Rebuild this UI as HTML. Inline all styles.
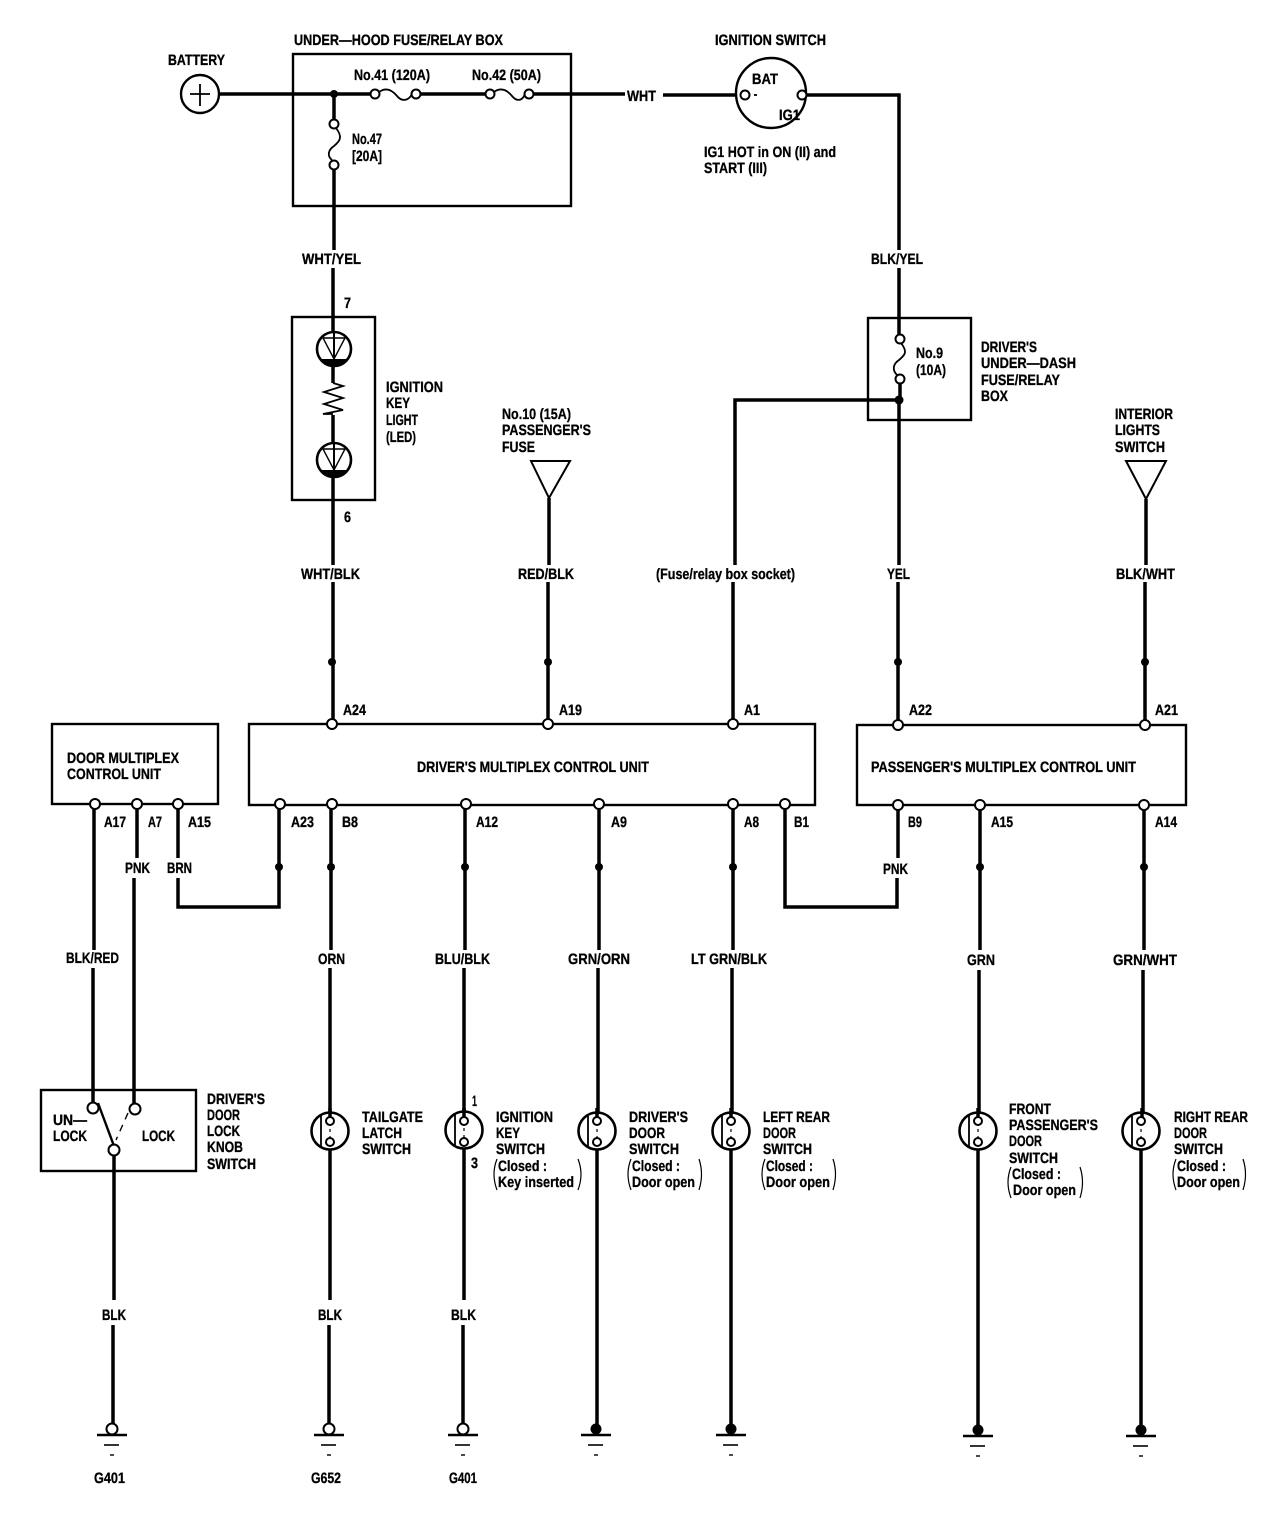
<!DOCTYPE html>
<html><head><meta charset="utf-8"><style>
html,body{margin:0;padding:0;background:#fff;width:1280px;height:1522px;overflow:hidden}
svg{display:block}
text{font-family:"Liberation Sans",sans-serif;font-weight:bold;font-size:15px;fill:#000;stroke:#000;stroke-width:.3px;text-rendering:geometricPrecision}
.w{stroke:#000;stroke-width:3.5;fill:none}
.b{stroke:#000;stroke-width:2.4;fill:none}
.t{stroke:#000;stroke-width:2;fill:#fff}
.n{stroke:#000;stroke-width:1.8;fill:none}
</style></head><body>
<svg width="1280" height="1522" viewBox="0 0 1280 1522" xmlns="http://www.w3.org/2000/svg">
<defs>
<g id="sw"><circle cx="0" cy="0" r="18.5" fill="#fff" stroke="#000" stroke-width="2.6"/><path d="M-9,-16V16" class="n"/><path d="M0,-9V9" stroke="#000" stroke-width="1.2" stroke-dasharray="3 4"/></g>
<g id="gnd"><path d="M-15,6H15" stroke="#000" stroke-width="2.6"/><path d="M-8,16H7" stroke="#000" stroke-width="1.6"/><path d="M-2,26H2" stroke="#000" stroke-width="1.4"/></g>
<g id="led"><circle cx="0" cy="0" r="17" fill="#fff" stroke="#000" stroke-width="2.6"/><path d="M-11,-11H11L0,10Z" fill="none" stroke="#000" stroke-width="1.4"/><path d="M-13.7,10A17,17 0 0 0 13.7,10Z" fill="#000"/></g>
</defs>

<!-- boxes -->
<g class="b">
<rect x="293" y="54" width="278" height="152"/>
<rect x="292" y="317" width="83" height="183"/>
<rect x="868" y="318" width="103" height="102"/>
<rect x="52" y="724" width="166" height="80"/>
<rect x="249" y="724" width="566" height="81"/>
<rect x="857" y="725" width="329" height="80"/>
<rect x="41" y="1090" width="155" height="81"/>
</g>

<!-- top wires -->
<g class="w">
<path d="M219,94H372"/><path d="M419,94H487"/><path d="M532,94H625"/><path d="M663,95H742"/>
<path d="M805,95H899V250"/><path d="M899,268V336"/><path d="M900,382V400H735V565"/><path d="M899,400V565"/>
<path d="M334,94V121"/><path d="M334,167V250"/><path d="M333,268V340"/><path d="M333,366V383"/><path d="M333,415V444"/><path d="M333,477V565"/>
<path d="M333,582V720"/><path d="M549,498V565"/><path d="M548,582V720"/><path d="M733,582V720"/><path d="M898,582V720"/>
<path d="M1146,499V565"/><path d="M1145,582V720"/>
</g>

<!-- battery -->
<circle cx="200" cy="94" r="19" fill="#fff" stroke="#000" stroke-width="2.4"/>
<path d="M190,94H210M200,84V106" class="n" stroke-width="1.2"/>
<!-- fuses -->
<path d="M379,92C386,87 392,90 397,96C401,101 408,102 412,94" class="n"/>
<path d="M494,92C501,87 507,90 512,96C516,101 522,102 525,94" class="n"/>
<path d="M336,128C343,137 340,141 334,146C328,150 327,156 332,160" class="n"/>
<path d="M901,343C908,352 905,355 899,360C893,364 892,370 897,375" class="n"/>
<g class="t">
<circle cx="375" cy="94" r="4.5"/><circle cx="416" cy="94" r="4.5"/><circle cx="490" cy="94" r="4.5"/><circle cx="529" cy="94" r="4.5"/>
<circle cx="334" cy="124" r="4.5"/><circle cx="334" cy="165" r="4.5"/><circle cx="900" cy="339" r="4.5"/><circle cx="900" cy="379" r="4.5"/>
</g>
<circle cx="334" cy="94" r="4" fill="#000"/>
<circle cx="899" cy="400" r="4.5" fill="#000"/>

<!-- ignition switch -->
<circle cx="771" cy="93" r="35" fill="#fff" stroke="#000" stroke-width="2.4"/>
<circle cx="745" cy="95" r="4.5" class="t"/><circle cx="802" cy="95" r="4.5" class="t"/>
<path d="M754,95H757" class="n"/>

<!-- LED -->
<use href="#led" x="334" y="349"/><use href="#led" x="334" y="460"/>
<path d="M334,332V358M334,443V470" stroke="#000" stroke-width="2"/>
<path d="M333,383L343,386L324,392L343,398L324,404L343,410L323,414H333" class="n"/>

<!-- triangles -->
<path d="M531,461H570L549,498Z" fill="#fff" stroke="#000" stroke-width="2"/>
<path d="M1126,461H1166L1146,499Z" fill="#fff" stroke="#000" stroke-width="2"/>

<!-- lower wires -->
<g class="w">
<path d="M94,808V950"/><path d="M93,968V1104"/>
<path d="M137,808V858"/><path d="M134,878V1105"/>
<path d="M178,808V858"/><path d="M178,878V907H279V808"/>
<path d="M331,808V950"/><path d="M330,968V1113"/><path d="M330,1148V1300"/><path d="M329,1325V1424"/>
<path d="M465,808V950"/><path d="M464,968V1117"/><path d="M464,1146V1300"/><path d="M463,1325V1424"/>
<path d="M599,808V950"/><path d="M598,968V1117"/><path d="M597,1146V1425"/>
<path d="M733,808V950"/><path d="M732,968V1117"/><path d="M731,1146V1425"/>
<path d="M785,808V907H897V878"/><path d="M898,858V808"/>
<path d="M980,808V950"/><path d="M979,970V1117"/><path d="M978,1146V1426"/>
<path d="M1144,808V950"/><path d="M1143,970V1117"/><path d="M1141,1146V1426"/>
<path d="M114,1155V1300"/><path d="M113,1325V1424"/>
</g>
<!-- junction dots -->
<g fill="#000">
<circle cx="332" cy="662" r="4"/><circle cx="548" cy="662" r="4"/><circle cx="898" cy="662" r="4"/><circle cx="1145" cy="662" r="4"/>
<circle cx="279" cy="867" r="4"/><circle cx="331" cy="867" r="4"/><circle cx="465" cy="867" r="4"/><circle cx="599" cy="867" r="4"/><circle cx="733" cy="867" r="4"/><circle cx="980" cy="867" r="4"/><circle cx="1144" cy="867" r="4"/>
</g>
<!-- terminals -->
<g class="t">
<circle cx="332" cy="724" r="5"/><circle cx="548" cy="724" r="5"/><circle cx="733" cy="724" r="5"/><circle cx="898" cy="725" r="5"/><circle cx="1145" cy="725" r="5"/>
<circle cx="95" cy="804" r="5"/><circle cx="137" cy="804" r="5"/><circle cx="178" cy="804" r="5"/>
<circle cx="280" cy="804" r="5"/><circle cx="332" cy="804" r="5"/><circle cx="466" cy="804" r="5"/><circle cx="599" cy="804" r="5"/><circle cx="733" cy="804" r="5"/><circle cx="785" cy="804" r="5"/>
<circle cx="898" cy="805" r="5"/><circle cx="980" cy="805" r="5"/><circle cx="1144" cy="805" r="5"/>
</g>

<!-- door lock switch -->
<path d="M98,1103L114,1146" stroke="#000" stroke-width="2.4"/>
<path d="M128,1113L116,1140" stroke="#000" stroke-width="1.4" stroke-dasharray="7 6"/>
<g class="t"><circle cx="93" cy="1108" r="5.5"/><circle cx="135" cy="1109" r="5.5"/><circle cx="114" cy="1150" r="5.5"/></g>

<!-- switches -->
<use href="#sw" x="330" y="1131"/><use href="#sw" x="464" y="1130"/><use href="#sw" x="597" y="1131"/><use href="#sw" x="731" y="1131"/><use href="#sw" x="978" y="1131"/><use href="#sw" x="1141" y="1131"/>
<g class="t" stroke-width="1.8">
<circle cx="330" cy="1121" r="4"/><circle cx="330" cy="1142" r="4"/>
<circle cx="464" cy="1121" r="4"/><circle cx="464" cy="1142" r="4"/>
<circle cx="597" cy="1121" r="4"/><circle cx="597" cy="1142" r="4"/>
<circle cx="731" cy="1121" r="4"/><circle cx="731" cy="1142" r="4"/>
<circle cx="978" cy="1121" r="4"/><circle cx="978" cy="1142" r="4"/>
<circle cx="1141" cy="1121" r="4"/><circle cx="1141" cy="1142" r="4"/>
</g>
<path d="M330,1108V1117M464,1108V1117M597,1108V1117M731,1108V1117M978,1108V1117M1142,1108V1117" class="w"/>

<!-- grounds -->
<use href="#gnd" x="112" y="1429"/><use href="#gnd" x="329" y="1429"/><use href="#gnd" x="463" y="1429"/><use href="#gnd" x="596" y="1429"/><use href="#gnd" x="731" y="1429"/><use href="#gnd" x="978" y="1430"/><use href="#gnd" x="1141" y="1430"/>
<g class="t"><circle cx="112" cy="1429" r="5.5"/><circle cx="329" cy="1429" r="5.5"/><circle cx="463" cy="1429" r="5.5"/></g>
<g fill="#000"><circle cx="596" cy="1429" r="5.5"/><circle cx="731" cy="1429" r="5.5"/><circle cx="978" cy="1430" r="5.5"/><circle cx="1141" cy="1430" r="5.5"/></g>

<!-- parens -->
<g stroke="#000" stroke-width="1.2" fill="none">
<path d="M497,1159Q491,1174 497,1190M578,1159Q584,1174 578,1190"/>
<path d="M631,1159Q625,1174 631,1190M699,1159Q704,1174 699,1190"/>
<path d="M765,1159Q759,1174 765,1190M833,1159Q838,1174 833,1190"/>
<path d="M1011,1167Q1005,1182 1011,1198M1080,1167Q1085,1182 1080,1198"/>
<path d="M1176,1159Q1170,1174 1176,1190M1243,1159Q1248,1174 1243,1190"/>
</g>

<!-- text -->
<text x="168" y="65" textLength="57" lengthAdjust="spacingAndGlyphs">BATTERY</text>
<text x="294" y="45" textLength="209" lengthAdjust="spacingAndGlyphs">UNDER—HOOD FUSE/RELAY BOX</text>
<text x="354" y="80" textLength="76" lengthAdjust="spacingAndGlyphs">No.41 (120A)</text>
<text x="472" y="80" textLength="69" lengthAdjust="spacingAndGlyphs">No.42 (50A)</text>
<text x="352" y="144" textLength="30" lengthAdjust="spacingAndGlyphs">No.47</text>
<text x="352" y="161" textLength="30" lengthAdjust="spacingAndGlyphs">[20A]</text>
<text x="715" y="45" textLength="111" lengthAdjust="spacingAndGlyphs">IGNITION SWITCH</text>
<text x="752" y="84" textLength="26" lengthAdjust="spacingAndGlyphs">BAT</text>
<text x="779" y="120" textLength="21" lengthAdjust="spacingAndGlyphs">IG1</text>
<text x="704" y="157" textLength="132" lengthAdjust="spacingAndGlyphs">IG1 HOT in ON (II) and</text>
<text x="704" y="173" textLength="63" lengthAdjust="spacingAndGlyphs">START (III)</text>
<text x="627" y="101" textLength="29" lengthAdjust="spacingAndGlyphs">WHT</text>
<text x="302" y="264" textLength="59" lengthAdjust="spacingAndGlyphs">WHT/YEL</text>
<text x="871" y="264" textLength="52" lengthAdjust="spacingAndGlyphs">BLK/YEL</text>
<text x="344" y="308" textLength="7" lengthAdjust="spacingAndGlyphs">7</text>
<text x="344" y="522" textLength="7" lengthAdjust="spacingAndGlyphs">6</text>
<text x="386" y="392" textLength="57" lengthAdjust="spacingAndGlyphs">IGNITION</text>
<text x="386" y="408" textLength="24" lengthAdjust="spacingAndGlyphs">KEY</text>
<text x="386" y="425" textLength="32" lengthAdjust="spacingAndGlyphs">LIGHT</text>
<text x="386" y="442" textLength="30" lengthAdjust="spacingAndGlyphs">(LED)</text>
<text x="916" y="358" textLength="27" lengthAdjust="spacingAndGlyphs">No.9</text>
<text x="916" y="375" textLength="30" lengthAdjust="spacingAndGlyphs">(10A)</text>
<text x="981" y="352" textLength="56" lengthAdjust="spacingAndGlyphs">DRIVER'S</text>
<text x="981" y="368" textLength="95" lengthAdjust="spacingAndGlyphs">UNDER—DASH</text>
<text x="981" y="385" textLength="79" lengthAdjust="spacingAndGlyphs">FUSE/RELAY</text>
<text x="981" y="401" textLength="27" lengthAdjust="spacingAndGlyphs">BOX</text>
<text x="502" y="419" textLength="69" lengthAdjust="spacingAndGlyphs">No.10 (15A)</text>
<text x="502" y="435" textLength="89" lengthAdjust="spacingAndGlyphs">PASSENGER'S</text>
<text x="502" y="452" textLength="33" lengthAdjust="spacingAndGlyphs">FUSE</text>
<text x="1115" y="419" textLength="58" lengthAdjust="spacingAndGlyphs">INTERIOR</text>
<text x="1115" y="435" textLength="45" lengthAdjust="spacingAndGlyphs">LIGHTS</text>
<text x="1115" y="452" textLength="50" lengthAdjust="spacingAndGlyphs">SWITCH</text>
<text x="301" y="579" textLength="59" lengthAdjust="spacingAndGlyphs">WHT/BLK</text>
<text x="518" y="579" textLength="56" lengthAdjust="spacingAndGlyphs">RED/BLK</text>
<text x="656" y="579" textLength="139" lengthAdjust="spacingAndGlyphs">(Fuse/relay box socket)</text>
<text x="887" y="579" textLength="23" lengthAdjust="spacingAndGlyphs">YEL</text>
<text x="1116" y="579" textLength="59" lengthAdjust="spacingAndGlyphs">BLK/WHT</text>
<text x="343" y="715" textLength="23" lengthAdjust="spacingAndGlyphs">A24</text>
<text x="559" y="715" textLength="23" lengthAdjust="spacingAndGlyphs">A19</text>
<text x="744" y="715" textLength="16" lengthAdjust="spacingAndGlyphs">A1</text>
<text x="909" y="715" textLength="23" lengthAdjust="spacingAndGlyphs">A22</text>
<text x="1155" y="715" textLength="23" lengthAdjust="spacingAndGlyphs">A21</text>
<text x="67" y="763" textLength="112" lengthAdjust="spacingAndGlyphs">DOOR MULTIPLEX</text>
<text x="67" y="779" textLength="94" lengthAdjust="spacingAndGlyphs">CONTROL UNIT</text>
<text x="417" y="772" textLength="232" lengthAdjust="spacingAndGlyphs">DRIVER'S MULTIPLEX CONTROL UNIT</text>
<text x="871" y="772" textLength="265" lengthAdjust="spacingAndGlyphs">PASSENGER'S MULTIPLEX CONTROL UNIT</text>
<text x="104" y="827" textLength="22" lengthAdjust="spacingAndGlyphs">A17</text>
<text x="148" y="827" textLength="14" lengthAdjust="spacingAndGlyphs">A7</text>
<text x="188" y="827" textLength="23" lengthAdjust="spacingAndGlyphs">A15</text>
<text x="291" y="827" textLength="23" lengthAdjust="spacingAndGlyphs">A23</text>
<text x="342" y="827" textLength="16" lengthAdjust="spacingAndGlyphs">B8</text>
<text x="476" y="827" textLength="22" lengthAdjust="spacingAndGlyphs">A12</text>
<text x="611" y="827" textLength="16" lengthAdjust="spacingAndGlyphs">A9</text>
<text x="744" y="827" textLength="15" lengthAdjust="spacingAndGlyphs">A8</text>
<text x="794" y="827" textLength="15" lengthAdjust="spacingAndGlyphs">B1</text>
<text x="908" y="827" textLength="14" lengthAdjust="spacingAndGlyphs">B9</text>
<text x="991" y="827" textLength="22" lengthAdjust="spacingAndGlyphs">A15</text>
<text x="1155" y="827" textLength="22" lengthAdjust="spacingAndGlyphs">A14</text>
<text x="125" y="873" textLength="25" lengthAdjust="spacingAndGlyphs">PNK</text>
<text x="167" y="873" textLength="25" lengthAdjust="spacingAndGlyphs">BRN</text>
<text x="883" y="874" textLength="25" lengthAdjust="spacingAndGlyphs">PNK</text>
<text x="66" y="963" textLength="53" lengthAdjust="spacingAndGlyphs">BLK/RED</text>
<text x="318" y="964" textLength="27" lengthAdjust="spacingAndGlyphs">ORN</text>
<text x="435" y="964" textLength="55" lengthAdjust="spacingAndGlyphs">BLU/BLK</text>
<text x="568" y="964" textLength="62" lengthAdjust="spacingAndGlyphs">GRN/ORN</text>
<text x="691" y="964" textLength="76" lengthAdjust="spacingAndGlyphs">LT GRN/BLK</text>
<text x="967" y="965" textLength="28" lengthAdjust="spacingAndGlyphs">GRN</text>
<text x="1113" y="965" textLength="64" lengthAdjust="spacingAndGlyphs">GRN/WHT</text>
<text x="207" y="1104" textLength="58" lengthAdjust="spacingAndGlyphs">DRIVER'S</text>
<text x="207" y="1120" textLength="33" lengthAdjust="spacingAndGlyphs">DOOR</text>
<text x="207" y="1136" textLength="33" lengthAdjust="spacingAndGlyphs">LOCK</text>
<text x="207" y="1152" textLength="36" lengthAdjust="spacingAndGlyphs">KNOB</text>
<text x="207" y="1169" textLength="49" lengthAdjust="spacingAndGlyphs">SWITCH</text>
<text x="53" y="1125" textLength="34" lengthAdjust="spacingAndGlyphs">UN—</text>
<text x="53" y="1141" textLength="34" lengthAdjust="spacingAndGlyphs">LOCK</text>
<text x="142" y="1141" textLength="33" lengthAdjust="spacingAndGlyphs">LOCK</text>
<text x="362" y="1122" textLength="61" lengthAdjust="spacingAndGlyphs">TAILGATE</text>
<text x="362" y="1138" textLength="40" lengthAdjust="spacingAndGlyphs">LATCH</text>
<text x="362" y="1154" textLength="49" lengthAdjust="spacingAndGlyphs">SWITCH</text>
<text x="472" y="1106" textLength="5" lengthAdjust="spacingAndGlyphs">1</text>
<text x="471" y="1168" textLength="7" lengthAdjust="spacingAndGlyphs">3</text>
<text x="496" y="1122" textLength="57" lengthAdjust="spacingAndGlyphs">IGNITION</text>
<text x="496" y="1138" textLength="24" lengthAdjust="spacingAndGlyphs">KEY</text>
<text x="496" y="1154" textLength="49" lengthAdjust="spacingAndGlyphs">SWITCH</text>
<text x="498" y="1171" textLength="49" lengthAdjust="spacingAndGlyphs">Closed :</text>
<text x="498" y="1187" textLength="76" lengthAdjust="spacingAndGlyphs">Key inserted</text>
<text x="629" y="1122" textLength="59" lengthAdjust="spacingAndGlyphs">DRIVER'S</text>
<text x="629" y="1138" textLength="36" lengthAdjust="spacingAndGlyphs">DOOR</text>
<text x="629" y="1154" textLength="50" lengthAdjust="spacingAndGlyphs">SWITCH</text>
<text x="632" y="1171" textLength="48" lengthAdjust="spacingAndGlyphs">Closed :</text>
<text x="632" y="1187" textLength="63" lengthAdjust="spacingAndGlyphs">Door open</text>
<text x="763" y="1122" textLength="67" lengthAdjust="spacingAndGlyphs">LEFT REAR</text>
<text x="763" y="1138" textLength="33" lengthAdjust="spacingAndGlyphs">DOOR</text>
<text x="763" y="1154" textLength="49" lengthAdjust="spacingAndGlyphs">SWITCH</text>
<text x="766" y="1171" textLength="47" lengthAdjust="spacingAndGlyphs">Closed :</text>
<text x="766" y="1187" textLength="64" lengthAdjust="spacingAndGlyphs">Door open</text>
<text x="1009" y="1114" textLength="42" lengthAdjust="spacingAndGlyphs">FRONT</text>
<text x="1009" y="1130" textLength="89" lengthAdjust="spacingAndGlyphs">PASSENGER'S</text>
<text x="1009" y="1146" textLength="33" lengthAdjust="spacingAndGlyphs">DOOR</text>
<text x="1009" y="1163" textLength="49" lengthAdjust="spacingAndGlyphs">SWITCH</text>
<text x="1012" y="1179" textLength="49" lengthAdjust="spacingAndGlyphs">Closed :</text>
<text x="1013" y="1195" textLength="63" lengthAdjust="spacingAndGlyphs">Door open</text>
<text x="1174" y="1122" textLength="74" lengthAdjust="spacingAndGlyphs">RIGHT REAR</text>
<text x="1174" y="1138" textLength="33" lengthAdjust="spacingAndGlyphs">DOOR</text>
<text x="1174" y="1154" textLength="49" lengthAdjust="spacingAndGlyphs">SWITCH</text>
<text x="1177" y="1171" textLength="49" lengthAdjust="spacingAndGlyphs">Closed :</text>
<text x="1177" y="1187" textLength="63" lengthAdjust="spacingAndGlyphs">Door open</text>
<text x="102" y="1320" textLength="24" lengthAdjust="spacingAndGlyphs">BLK</text>
<text x="318" y="1320" textLength="24" lengthAdjust="spacingAndGlyphs">BLK</text>
<text x="451" y="1320" textLength="25" lengthAdjust="spacingAndGlyphs">BLK</text>
<text x="94" y="1483" textLength="31" lengthAdjust="spacingAndGlyphs">G401</text>
<text x="311" y="1483" textLength="30" lengthAdjust="spacingAndGlyphs">G652</text>
<text x="449" y="1483" textLength="28" lengthAdjust="spacingAndGlyphs">G401</text>
</svg>
</body></html>
